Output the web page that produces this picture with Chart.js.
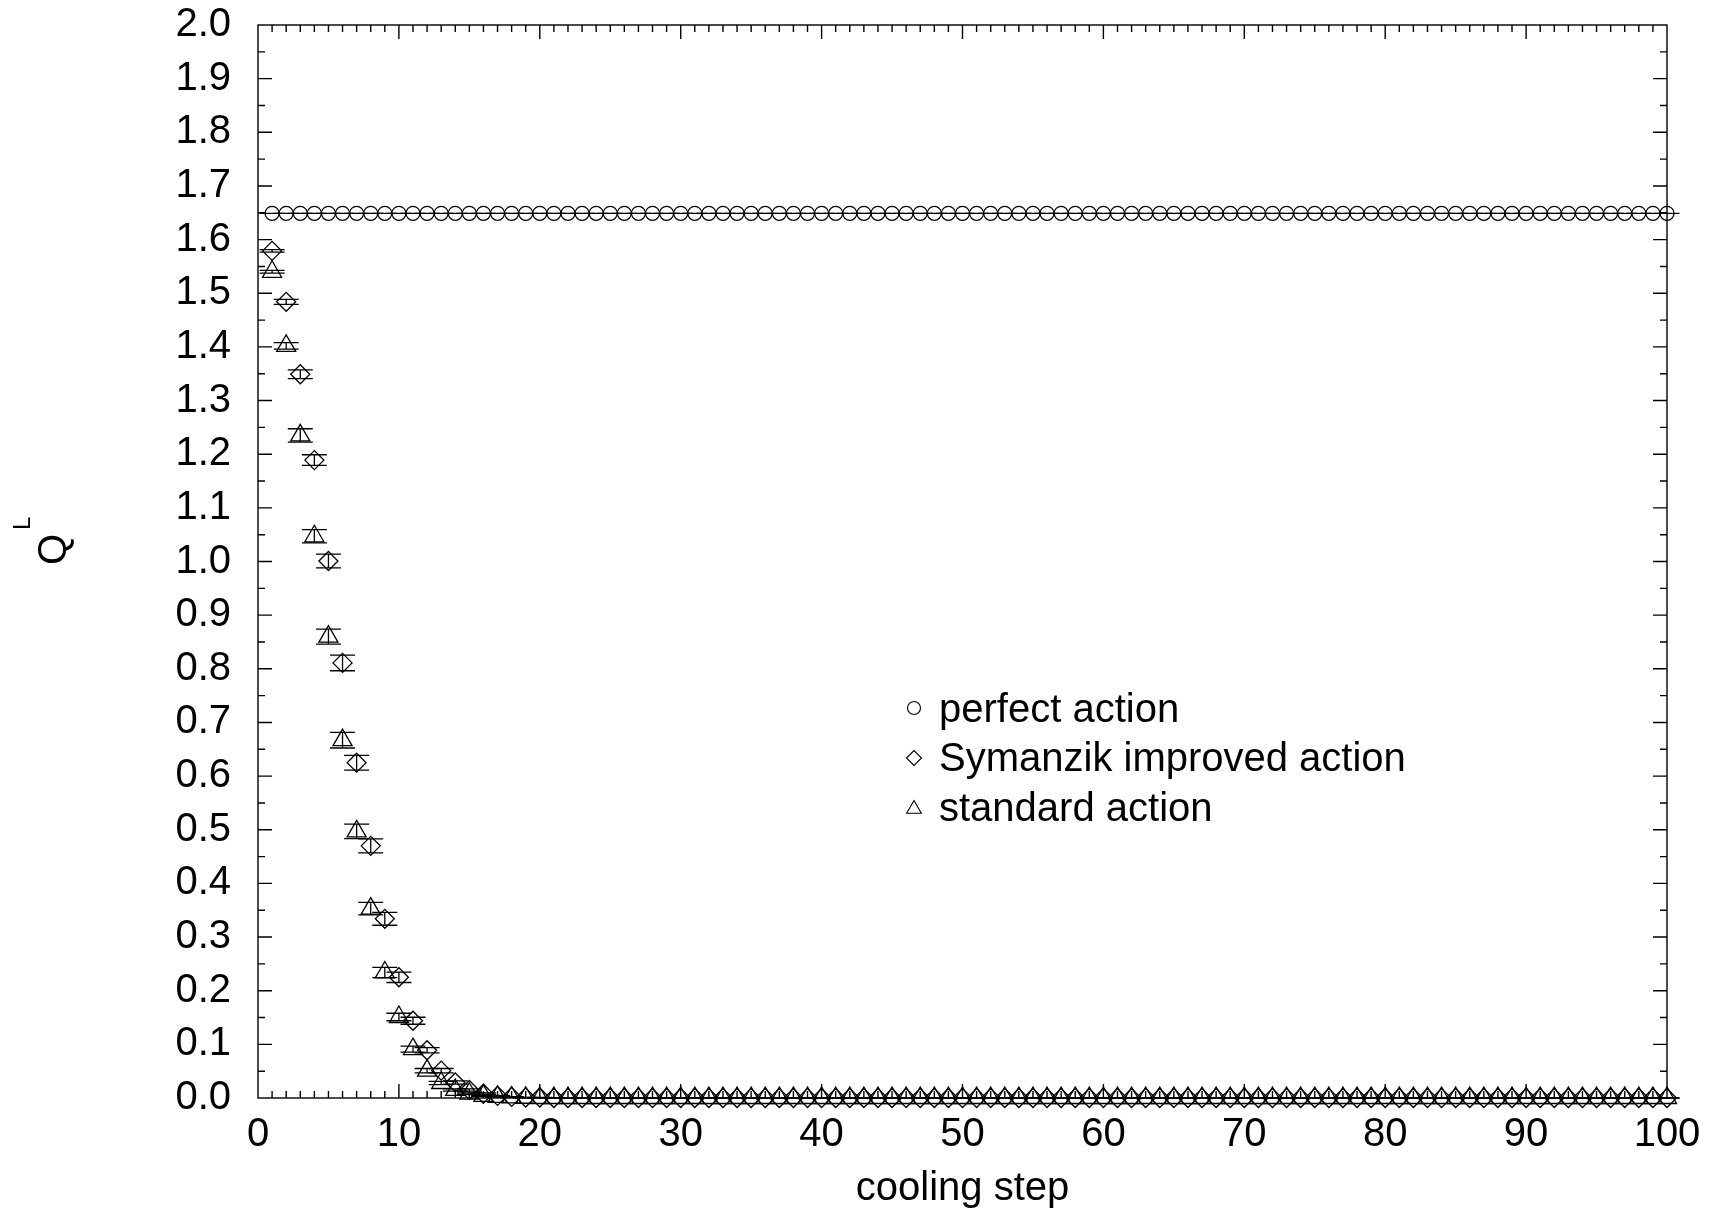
<!DOCTYPE html>
<html>
<head>
<meta charset="utf-8">
<script src="https://cdn.jsdelivr.net/npm/chart.js@4/dist/chart.umd.min.js"></script>
<style>
  body { margin: 0; background: #fff; }
  #wrap { width: 1710px; height: 1209px; }
</style>
</head>
<body>
<div id="wrap"><canvas id="chart" width="1710" height="1209"></canvas></div>
<script>
// cooling steps 1..100
const steps = [
  1, 2, 3, 4, 5, 6, 7, 8, 9, 10,
  11, 12, 13, 14, 15, 16, 17, 18, 19, 20,
  21, 22, 23, 24, 25, 26, 27, 28, 29, 30,
  31, 32, 33, 34, 35, 36, 37, 38, 39, 40,
  41, 42, 43, 44, 45, 46, 47, 48, 49, 50,
  51, 52, 53, 54, 55, 56, 57, 58, 59, 60,
  61, 62, 63, 64, 65, 66, 67, 68, 69, 70,
  71, 72, 73, 74, 75, 76, 77, 78, 79, 80,
  81, 82, 83, 84, 85, 86, 87, 88, 89, 90,
  91, 92, 93, 94, 95, 96, 97, 98, 99, 100
];

// perfect action: stays flat
const perfect = [
  1.649, 1.649, 1.649, 1.649, 1.649, 1.649, 1.649, 1.649, 1.649, 1.649,
  1.649, 1.649, 1.649, 1.649, 1.649, 1.649, 1.649, 1.649, 1.649, 1.649,
  1.649, 1.649, 1.649, 1.649, 1.649, 1.649, 1.649, 1.649, 1.649, 1.649,
  1.649, 1.649, 1.649, 1.649, 1.649, 1.649, 1.649, 1.649, 1.649, 1.649,
  1.649, 1.649, 1.649, 1.649, 1.649, 1.649, 1.649, 1.649, 1.649, 1.649,
  1.649, 1.649, 1.649, 1.649, 1.649, 1.649, 1.649, 1.649, 1.649, 1.649,
  1.649, 1.649, 1.649, 1.649, 1.649, 1.649, 1.649, 1.649, 1.649, 1.649,
  1.649, 1.649, 1.649, 1.649, 1.649, 1.649, 1.649, 1.649, 1.649, 1.649,
  1.649, 1.649, 1.649, 1.649, 1.649, 1.649, 1.649, 1.649, 1.649, 1.649,
  1.649, 1.649, 1.649, 1.649, 1.649, 1.649, 1.649, 1.649, 1.649, 1.649
];
const perfectErr = [
  0, 0, 0, 0, 0, 0, 0, 0, 0, 0,
  0, 0, 0, 0, 0, 0, 0, 0, 0, 0,
  0, 0, 0, 0, 0, 0, 0, 0, 0, 0,
  0, 0, 0, 0, 0, 0, 0, 0, 0, 0,
  0, 0, 0, 0, 0, 0, 0, 0, 0, 0,
  0, 0, 0, 0, 0, 0, 0, 0, 0, 0,
  0, 0, 0, 0, 0, 0, 0, 0, 0, 0,
  0, 0, 0, 0, 0, 0, 0, 0, 0, 0,
  0, 0, 0, 0, 0, 0, 0, 0, 0, 0,
  0, 0, 0, 0, 0, 0, 0, 0, 0, 0
];

// Symanzik improved action
const symanzik = [
  1.579, 1.484, 1.349, 1.189, 1.001, 0.811, 0.625, 0.470, 0.334, 0.225,
  0.144, 0.089, 0.051, 0.029, 0.015, 0.008, 0.004, 0.002, 0.001, 0.001,
  0, 0, 0, 0, 0, 0, 0, 0, 0, 0,
  0, 0, 0, 0, 0, 0, 0, 0, 0, 0,
  0, 0, 0, 0, 0, 0, 0, 0, 0, 0,
  0, 0, 0, 0, 0, 0, 0, 0, 0, 0,
  0, 0, 0, 0, 0, 0, 0, 0, 0, 0,
  0, 0, 0, 0, 0, 0, 0, 0, 0, 0,
  0, 0, 0, 0, 0, 0, 0, 0, 0, 0,
  0, 0, 0, 0, 0, 0, 0, 0, 0, 0
];
const symanzikErr = [
  0.0025, 0.0047, 0.008, 0.010, 0.0127, 0.0146, 0.0137, 0.013, 0.012, 0.0097,
  0.0065, 0.005, 0.004, 0.003, 0.002, 0.0015, 0.001, 0.0005, 0, 0,
  0, 0, 0, 0, 0, 0, 0, 0, 0, 0,
  0, 0, 0, 0, 0, 0, 0, 0, 0, 0,
  0, 0, 0, 0, 0, 0, 0, 0, 0, 0,
  0, 0, 0, 0, 0, 0, 0, 0, 0, 0,
  0, 0, 0, 0, 0, 0, 0, 0, 0, 0,
  0, 0, 0, 0, 0, 0, 0, 0, 0, 0,
  0, 0, 0, 0, 0, 0, 0, 0, 0, 0,
  0, 0, 0, 0, 0, 0, 0, 0, 0, 0
];

// standard action
const standard = [
  1.540, 1.402, 1.235, 1.047, 0.860, 0.667, 0.497, 0.353, 0.234, 0.151,
  0.091, 0.051, 0.028, 0.015, 0.008, 0.004, 0.002, 0.001, 0.0005, 0,
  0, 0, 0, 0, 0, 0, 0, 0, 0, 0,
  0, 0, 0, 0, 0, 0, 0, 0, 0, 0,
  0, 0, 0, 0, 0, 0, 0, 0, 0, 0,
  0, 0, 0, 0, 0, 0, 0, 0, 0, 0,
  0, 0, 0, 0, 0, 0, 0, 0, 0, 0,
  0, 0, 0, 0, 0, 0, 0, 0, 0, 0,
  0, 0, 0, 0, 0, 0, 0, 0, 0, 0,
  0, 0, 0, 0, 0, 0, 0, 0, 0, 0
];
const standardErr = [
  0.0025, 0.006, 0.0124, 0.0124, 0.014, 0.0146, 0.0134, 0.0118, 0.0096, 0.007,
  0.0056, 0.004, 0.003, 0.002, 0.0015, 0.001, 0.0005, 0, 0, 0,
  0, 0, 0, 0, 0, 0, 0, 0, 0, 0,
  0, 0, 0, 0, 0, 0, 0, 0, 0, 0,
  0, 0, 0, 0, 0, 0, 0, 0, 0, 0,
  0, 0, 0, 0, 0, 0, 0, 0, 0, 0,
  0, 0, 0, 0, 0, 0, 0, 0, 0, 0,
  0, 0, 0, 0, 0, 0, 0, 0, 0, 0,
  0, 0, 0, 0, 0, 0, 0, 0, 0, 0,
  0, 0, 0, 0, 0, 0, 0, 0, 0, 0
];

const legendLabels = ['perfect action', 'Symanzik improved action', 'standard action'];

const FONT = 'Liberation Sans, Arial, Helvetica, sans-serif';

function toPoints(ys, errs) {
    return steps.map((s, i) => ({ x: s, y: ys[i], err: errs[i] }));
}

function makeSet(label, ys, errs, style, radius) {
    return {
        label: label,
        data: toPoints(ys, errs),
        pointStyle: style,
        pointRadius: radius,
        pointBorderWidth: 1.3,
        pointBorderColor: '#000',
        pointBackgroundColor: 'rgba(0,0,0,0)',
        showLine: false,
        clip: false
    };
}

// vertical error bars with wide caps
const errorBars = {
    id: 'errorBars',
    afterDatasetsDraw(chart) {
        const ctx = chart.ctx;
        const yScale = chart.scales.y;
        ctx.save();
        ctx.strokeStyle = '#000';
        ctx.lineWidth = 1.3;
        chart.data.datasets.forEach((ds, di) => {
            const meta = chart.getDatasetMeta(di);
            meta.data.forEach((pt, i) => {
                const d = ds.data[i];
                const yTop = yScale.getPixelForValue(d.y + d.err);
                const yBot = yScale.getPixelForValue(d.y - d.err);
                ctx.beginPath();
                ctx.moveTo(pt.x, yTop); ctx.lineTo(pt.x, yBot);
                ctx.moveTo(pt.x - 12.5, yTop); ctx.lineTo(pt.x + 12.5, yTop);
                ctx.moveTo(pt.x - 12.5, yBot); ctx.lineTo(pt.x + 12.5, yBot);
                ctx.stroke();
            });
        });
        ctx.restore();
    }
};

// box frame with inward ticks on all four sides
const frameTicks = {
    id: 'frameTicks',
    afterDraw(chart) {
        const ctx = chart.ctx;
        const { left, right, top, bottom } = chart.chartArea;
        const xs = chart.scales.x, ys = chart.scales.y;
        ctx.save();
        ctx.strokeStyle = '#000';
        ctx.lineWidth = 1.4;
        ctx.strokeRect(left, top, right - left, bottom - top);
        ctx.beginPath();
        for (let v = 1; v < 100; v++) {
            const px = xs.getPixelForValue(v);
            const len = v % 10 === 0 ? 14 : 7;
            ctx.moveTo(px, bottom); ctx.lineTo(px, bottom - len);
            ctx.moveTo(px, top); ctx.lineTo(px, top + len);
        }
        for (let i = 1; i < 40; i++) {
            const py = ys.getPixelForValue(i * 0.05);
            const len = i % 2 === 0 ? 14 : 7;
            ctx.moveTo(left, py); ctx.lineTo(left + len, py);
            ctx.moveTo(right, py); ctx.lineTo(right - len, py);
        }
        ctx.stroke();
        ctx.restore();
    }
};

// rotated y title Q with superscript L
const yTitle = {
    id: 'yTitle',
    afterDraw(chart) {
        const ctx = chart.ctx;
        ctx.save();
        ctx.translate(65.5, 565);
        ctx.rotate(-Math.PI / 2);
        ctx.fillStyle = '#000';
        ctx.textAlign = 'left';
        ctx.textBaseline = 'alphabetic';
        ctx.font = '40px ' + FONT;
        ctx.fillText('Q', 0, 0);
        ctx.font = '24px ' + FONT;
        ctx.fillText('L', 35, -36);
        ctx.restore();
    }
};

// small-symbol legend inside the plot
const symLegend = {
    id: 'symLegend',
    afterDraw(chart) {
        const ctx = chart.ctx;
        const styles = ['circle', 'rectRot', 'triangle'];
        const radii = [6.5, 7.5, 8.5];
        const symY = [708, 758, 809];
        const rows = [722, 771, 821];
        ctx.save();
        ctx.strokeStyle = '#000';
        ctx.lineWidth = 1.1;
        ctx.font = '40px ' + FONT;
        ctx.textBaseline = 'alphabetic';
        legendLabels.forEach((txt, i) => {
            ctx.fillStyle = 'rgba(0,0,0,0)';
            Chart.helpers.drawPoint(ctx, {
                pointStyle: styles[i], radius: radii[i], borderWidth: 1.1, rotation: 0
            }, 914, symY[i]);
            ctx.fillStyle = '#000';
            ctx.fillText(txt, 939, rows[i]);
        });
        ctx.restore();
    }
};

new Chart(document.getElementById('chart'), {
    type: 'scatter',
    data: {
        datasets: [
            makeSet(legendLabels[0], perfect, perfectErr, 'circle', 7),
            makeSet(legendLabels[1], symanzik, symanzikErr, 'rectRot', 9.5),
            makeSet(legendLabels[2], standard, standardErr, 'triangle', 11)
        ]
    },
    options: {
        responsive: false,
        animation: false,
        layout: { padding: { left: 0, top: 25, right: 43, bottom: 0 } },
        plugins: {
            legend: { display: false },
            tooltip: { enabled: false }
        },
        scales: {
            x: {
                type: 'linear',
                min: 0,
                max: 100,
                grid: { display: false, drawTicks: false },
                border: { display: false },
                ticks: {
                    stepSize: 10,
                    color: '#000',
                    padding: 13,
                    maxRotation: 0,
                    font: { family: FONT, size: 40 }
                },
                title: {
                    display: true,
                    text: 'cooling step',
                    color: '#000',
                    padding: { top: 0, bottom: 0 },
                    font: { family: FONT, size: 40, lineHeight: 1.0 }
                },
                afterFit(s) {
                    s.height = 111;
                    s.paddingLeft = 0;
                    s.paddingRight = 0;
                }
            },
            y: {
                type: 'linear',
                min: 0,
                max: 2,
                grid: { display: false, drawTicks: false },
                border: { display: false },
                ticks: {
                    stepSize: 0.1,
                    color: '#000',
                    padding: 27,
                    font: { family: FONT, size: 40 },
                    callback: v => v.toFixed(1)
                },
                afterFit(s) {
                    s.width = 258;
                    s.paddingTop = 0;
                    s.paddingBottom = 0;
                }
            }
        }
    },
    plugins: [errorBars, frameTicks, yTitle, symLegend]
});
</script>
</body>
</html>
